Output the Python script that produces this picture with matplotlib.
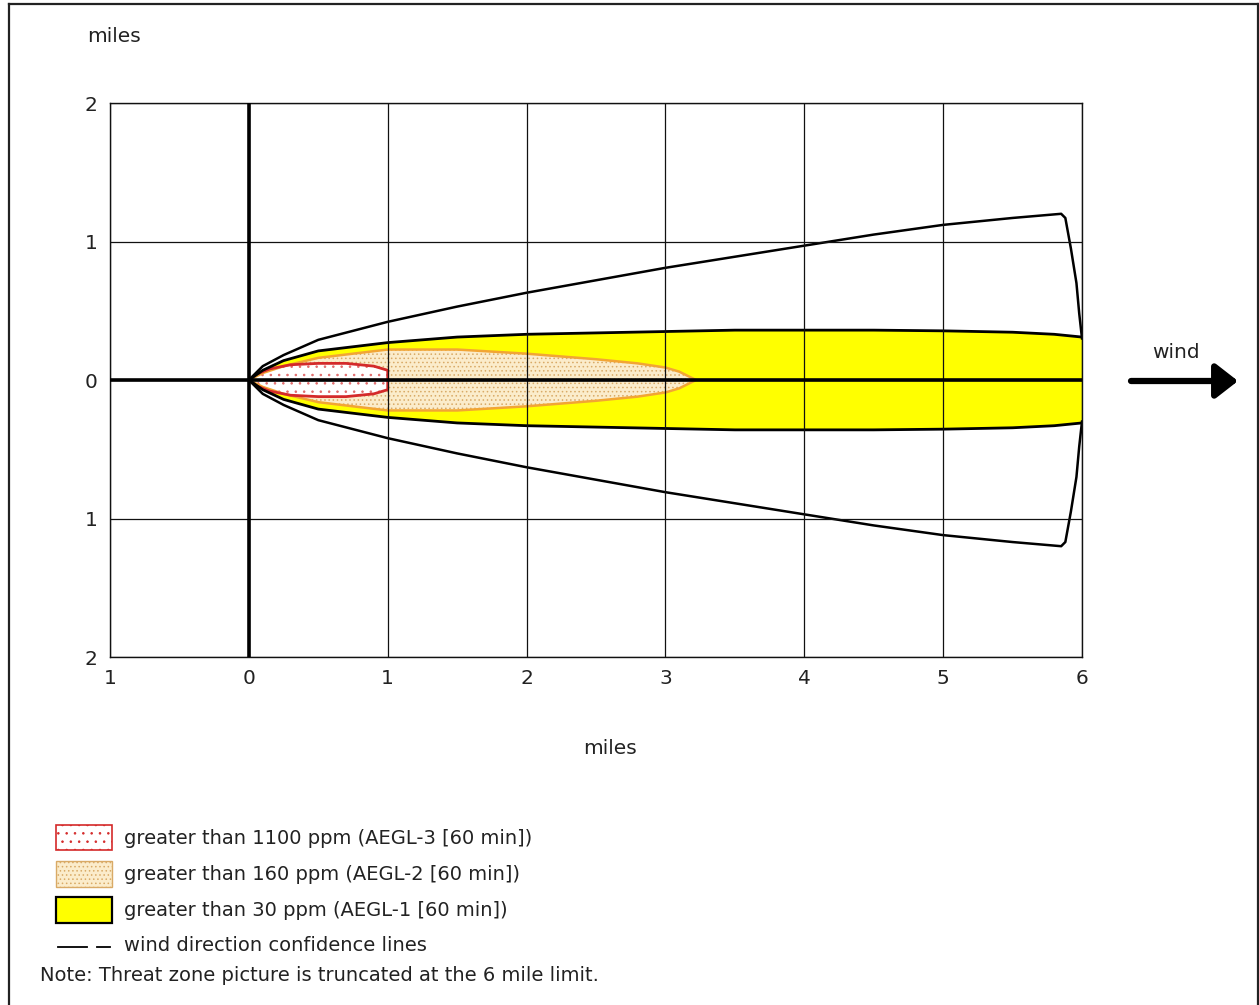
import matplotlib
matplotlib.use("Agg")
import matplotlib.pyplot as plt
from matplotlib.lines import Line2D
from matplotlib.patches import Rectangle
from matplotlib.ticker import FuncFormatter

plt.rcParams['font.family'] = ['DejaVu Sans']
plt.rcParams['hatch.linewidth'] = 0.6

# ---------------- data (miles) ----------------
# AEGL-1 (>30 ppm) upper boundary; lower is mirror
yellow_x = [0, 0.1, 0.25, 0.5, 1.0, 1.5, 2.0, 2.5, 3.0, 3.5, 4.0, 4.5, 5.0, 5.5, 5.8, 6.0]
yellow_y = [0, 0.07, 0.14, 0.21, 0.27, 0.31, 0.33, 0.34, 0.35, 0.36, 0.36, 0.36, 0.355, 0.345, 0.33, 0.31]
# AEGL-2 (>160 ppm)
orange_x = [0, 0.1, 0.25, 0.5, 1.0, 1.5, 2.0, 2.5, 2.8, 3.0, 3.1, 3.22]
orange_y = [0, 0.05, 0.10, 0.16, 0.22, 0.22, 0.19, 0.15, 0.12, 0.09, 0.06, 0]
# AEGL-3 (>1100 ppm)
red_x = [0, 0.05, 0.15, 0.3, 0.5, 0.7, 0.9, 1.0, 1.0]
red_y = [0, 0.04, 0.08, 0.11, 0.12, 0.12, 0.10, 0.07, 0]
# wind direction confidence lines (upper), then truncation arc
conf_x = [0, 0.1, 0.25, 0.5, 1.0, 1.5, 2.0, 2.5, 3.0, 3.5, 4.0, 4.5, 5.0, 5.5, 5.85,
          5.88, 5.92, 5.96, 5.98, 6.0]
conf_y = [0, 0.10, 0.18, 0.29, 0.42, 0.53, 0.63, 0.72, 0.81, 0.89, 0.97, 1.05, 1.12, 1.17, 1.20,
          1.17, 0.95, 0.70, 0.48, 0.30]

x_ticks = [-1, 0, 1, 2, 3, 4, 5, 6]
y_ticks = [-2, -1, 0, 1, 2]

legend_labels = ["greater than 1100 ppm (AEGL-3 [60 min])",
                 "greater than 160 ppm (AEGL-2 [60 min])",
                 "greater than 30 ppm (AEGL-1 [60 min])",
                 "wind direction confidence lines"]
note_text = "Note: Threat zone picture is truncated at the 6 mile limit."

RED = '#d42a2a'
RED_DOT = '#e06a6a'
ORANGE = '#f2a534'
ORANGE_FILL = '#fbeccb'
ORANGE_DOT = '#d9aa66'
YELLOW = '#ffff00'

W, H = 1259, 1005
fig = plt.figure(figsize=(W / 100, H / 100), dpi=100)


def fx(px):
    return px / W


def fy(py):
    return 1 - py / H


ax = fig.add_axes([fx(110), fy(657), fx(1082) - fx(110), fy(103) - fy(657)])
ax.set_xlim(-1, 6)
ax.set_ylim(-2, 2)


def closed(xs, ys):
    px = list(xs) + list(xs[::-1])
    py = list(ys) + [-v for v in ys[::-1]]
    return px, py


# yellow zone
px, py = closed(yellow_x, yellow_y)
ax.fill(px, py, facecolor=YELLOW, edgecolor='none', lw=0, zorder=1)
ax.plot(yellow_x, yellow_y, color='black', lw=2.0, zorder=4)
ax.plot(yellow_x, [-v for v in yellow_y], color='black', lw=2.0, zorder=4)

# orange zone
px, py = closed(orange_x, orange_y)
ax.fill(px, py, facecolor=ORANGE_FILL, edgecolor=ORANGE_DOT, hatch='....', lw=0, zorder=2)
ax.plot(px, py, color=ORANGE, lw=1.8, zorder=3)

# red zone
px, py = closed(red_x, red_y)
ax.fill(px, py, facecolor='white', edgecolor=RED_DOT, hatch='..', lw=0, zorder=2.5)
ax.plot(px, py, color=RED, lw=2.0, zorder=3.5)

# confidence lines
ax.plot(conf_x, conf_y, color='black', lw=1.8, zorder=4)
ax.plot(conf_x, [-v for v in conf_y], color='black', lw=1.8, zorder=4)

# grid on top
for xv in x_ticks:
    ax.axvline(xv, color='#111111', lw=0.9, zorder=5)
for yv in y_ticks:
    ax.axhline(yv, color='#111111', lw=0.9, zorder=5)
ax.axvline(0, color='black', lw=2.6, zorder=6)
ax.axhline(0, color='black', lw=2.6, zorder=6)

ax.set_xticks(x_ticks)
ax.set_yticks(y_ticks)
fmt = FuncFormatter(lambda v, p: f"{abs(int(round(v)))}")
ax.xaxis.set_major_formatter(fmt)
ax.yaxis.set_major_formatter(fmt)
ax.tick_params(length=0, labelsize=14.5, colors='#222222', pad=9)
for s in ax.spines.values():
    s.set_color('#111111')
    s.set_linewidth(1.0)

# axis labels
fig.text(fx(114), fy(36), "miles", fontsize=14.5, ha='center', va='center', color='#222222')
fig.text(fx(610), fy(748), "miles", fontsize=14.5, ha='center', va='center', color='#222222')

# wind arrow
fig.text(fx(1176), fy(353), "wind", fontsize=14.5, ha='center', va='center', color='#222222')
ax.annotate('', xy=(fx(1238), fy(381)), xytext=(fx(1131), fy(381)),
            xycoords='figure fraction', textcoords='figure fraction',
            arrowprops=dict(arrowstyle='-|>,head_length=0.45,head_width=0.35', lw=4.5,
                            color='black', mutation_scale=30, shrinkA=0, shrinkB=0,
                            capstyle='round'))

# legend
rects = [(825, 850, 'white', RED, '..', 1.2),
         (861, 887, ORANGE_FILL, ORANGE_DOT, '....', 1.0),
         (897, 923, YELLOW, 'black', None, 1.6)]
for (t, b, fc, ec, hatch, lw) in rects:
    r = Rectangle((fx(56), fy(b)), fx(112) - fx(56), fy(t) - fy(b), transform=fig.transFigure,
                  facecolor=fc, edgecolor=ec, hatch=hatch, lw=lw)
    fig.add_artist(r)
text_rows = [838, 874, 910, 945]
for lab, yy in zip(legend_labels, text_rows):
    fig.text(fx(124), fy(yy), lab, fontsize=14, ha='left', va='center', color='#222222')
fig.add_artist(Line2D([fx(58), fx(87)], [fy(947), fy(947)], transform=fig.transFigure,
                      color='black', lw=1.3))
fig.add_artist(Line2D([fx(97), fx(110)], [fy(947), fy(947)], transform=fig.transFigure,
                      color='black', lw=1.3))
fig.text(fx(40), fy(975), note_text, fontsize=14, ha='left', va='center', color='#222222')

# outer border (left, top, right)
for xs, ys in [([9, 9], [4, 1005]), ([9, 1258], [4, 4]), ([1258, 1258], [4, 1005])]:
    fig.add_artist(Line2D([fx(v) for v in xs], [fy(v) for v in ys], transform=fig.transFigure,
                          color='#222222', lw=1.6))

fig.savefig("out.png", dpi=100)
